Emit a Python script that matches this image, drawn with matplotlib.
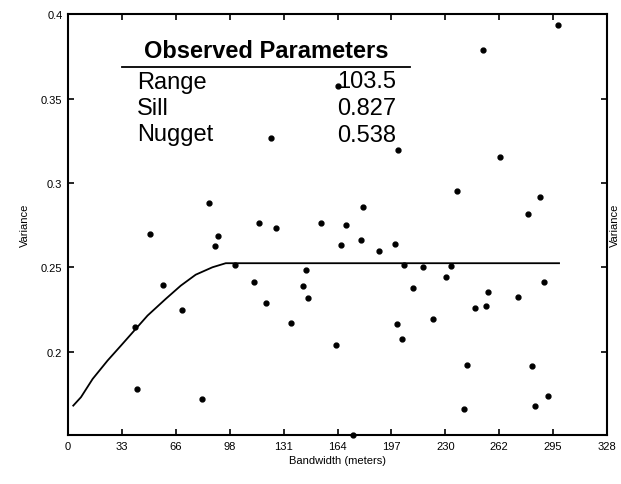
import numpy as np
import matplotlib
matplotlib.use('Agg')
import matplotlib.pyplot as plt

plt.rcParams['font.family'] = ['Liberation Sans', 'DejaVu Sans']

# 实测半方差点 (lag, variance)
lag = [50.2, 85.6, 91.1, 89.7, 116.2, 101.4, 113.0, 57.7, 69.2, 40.7,
       41.9, 81.4, 164.2, 123.7, 201.1, 179.8, 126.3, 154.1, 168.9, 178.0,
       166.4, 189.5, 199.0, 204.7, 216.1, 144.6, 230.0, 143.3, 210.0, 120.3,
       145.8, 135.5, 162.8, 173.3, 200.4, 203.3, 222.1, 233.1, 236.9, 241.0,
       243.0, 247.8, 252.3, 254.3, 255.7, 262.8, 273.9, 279.8, 282.3, 284.3,
       287.3, 289.7, 292.0, 298.4]
variance = [0.2700, 0.2883, 0.2686, 0.2627, 0.2763, 0.2515, 0.2416, 0.2398, 0.2250, 0.2150,
            0.1783, 0.1724, 0.3572, 0.3264, 0.3197, 0.2860, 0.2736, 0.2765, 0.2751, 0.2664,
            0.2633, 0.2599, 0.2641, 0.2515, 0.2503, 0.2487, 0.2446, 0.2392, 0.2380, 0.2290,
            0.2320, 0.2172, 0.2043, 0.1511, 0.2166, 0.2077, 0.2197, 0.2511, 0.2954, 0.1664,
            0.1925, 0.2262, 0.3787, 0.2274, 0.2357, 0.3156, 0.2327, 0.2818, 0.1917, 0.1682,
            0.2919, 0.2416, 0.1741, 0.3937]

# 拟合模型曲线
model_x = [3.2, 7.9, 15.0, 24.1, 32.2, 40.3, 48.4, 59.5, 68.6, 77.7, 87.9, 96.0, 298.8]
model_y = [0.1682, 0.1732, 0.1840, 0.1949, 0.2037, 0.2126, 0.2215, 0.2314, 0.2392, 0.2457,
           0.2501, 0.2525, 0.2525]

x_ticks = [0, 33, 66, 98, 131, 164, 197, 230, 262, 295, 328]
y_ticks = [0.2, 0.25, 0.3, 0.35, 0.4]
y_labels = ['0.2', '0.25', '0.3', '0.35', '0.4']

param_names = ['Range', 'Sill', 'Nugget']
param_values = ['103.5', '0.827', '0.538']

fig = plt.figure(figsize=(6.21, 4.85), dpi=100)
ax = fig.add_axes([0.1095, 0.101, 0.868, 0.868])

ax.plot(model_x, model_y, color='black', linewidth=1.3)
ax.plot(lag, variance, 'o', color='black', markersize=3.5, clip_on=False)

ax.set_xlim(0, 328)
ax.set_ylim(0.1508, 0.4)
ax.set_xticks(np.linspace(0, 328, 11))
ax.set_xticklabels([str(t) for t in x_ticks])
ax.set_yticks(y_ticks)
ax.set_yticklabels(y_labels)
ax.tick_params(direction='in', top=True, right=True, length=4, width=1.2,
               labelsize=8, pad=4, colors='black')
for sp in ax.spines.values():
    sp.set_linewidth(1.5)

ax.set_xlabel('Bandwidth (meters)', fontsize=8, labelpad=3)
ax.set_ylabel('Variance', fontsize=8, labelpad=8)
# 右侧的 Variance 标签
fig.text(614.5 / 621, 1 - 225 / 485, 'Variance', rotation=90, fontsize=8,
         ha='center', va='center')

# 参数表
fig.text(266 / 621, 1 - 58 / 485, 'Observed Parameters', fontsize=17,
         fontweight='bold', ha='center', va='baseline')
fig.add_artist(plt.Line2D([122 / 621, 410 / 621], [1 - 68 / 485, 1 - 68 / 485],
                          color='black', linewidth=1.3))
for i, (name, val) in enumerate(zip(param_names, param_values)):
    yb = 1 - (88.5 + 26.5 * i) / 485
    fig.text(137 / 621, yb, name, fontsize=17, ha='left', va='baseline')
    fig.text(337 / 621, yb, val, fontsize=17, ha='left', va='baseline')

fig.savefig('out.png', dpi=100)
